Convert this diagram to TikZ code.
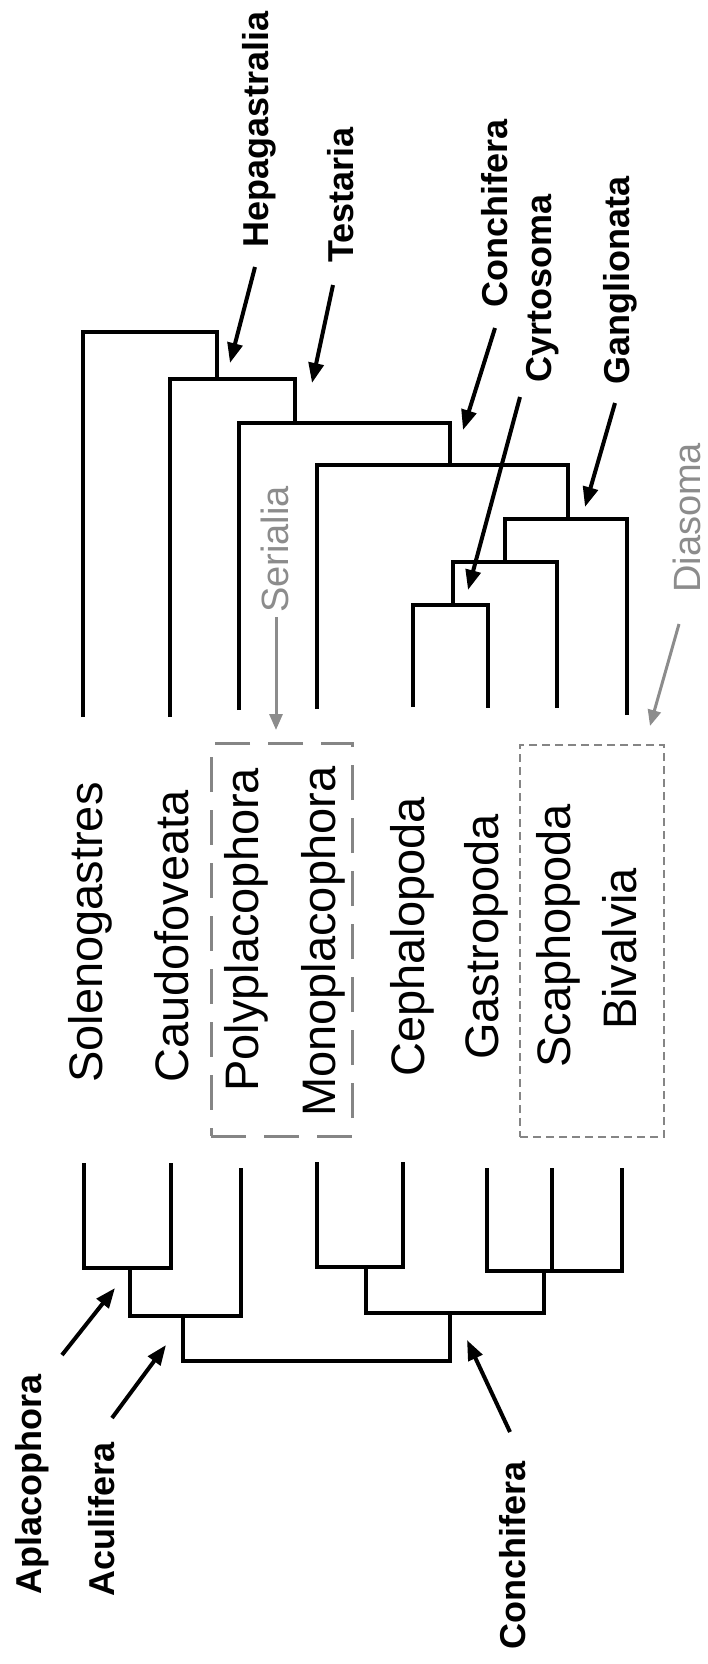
\documentclass[tikz,border=0pt]{standalone}
\usepackage{fontspec}
\setmainfont{Liberation Sans}
\usetikzlibrary{arrows.meta}
\definecolor{lgray}{HTML}{8C8C8C}
\definecolor{bgray}{HTML}{858585}
\begin{document}
\begin{tikzpicture}[x=1pt,y=-1pt,
  br/.style={line width=4.5pt},
  sp/.style={rotate=90, anchor=base west, inner sep=0pt, font=\fontsize{47}{50}\selectfont},
  cl/.style={rotate=90, anchor=base west, inner sep=0pt, font=\bfseries\fontsize{36}{40}\selectfont},
  gl/.style={rotate=90, anchor=base west, inner sep=0pt, text=lgray, font=\fontsize{38}{42}\selectfont},
  clarrow/.style={line width=4pt, -{Triangle[length=20pt,width=15pt]}},
  grarrow/.style={lgray, line width=3pt, -{Triangle[length=16pt,width=13pt]}},
  serbox/.style={draw=bgray, line width=3pt, dash pattern=on 35pt off 18pt, inner sep=0pt},
  diabox/.style={draw=bgray, line width=2.5pt, dash pattern=on 8pt off 5pt, inner sep=0pt}
]
\fill[white] (0,0) rectangle (708,1664);
\useasboundingbox (0,0) rectangle (708,1664);

% ---------- species labels ----------
\node[sp] (lSol) at (102,1083) {Solenogastres};
\node[sp] (lCau) at (188,1083) {Caudofoveata};
\node[sp] (lPol) at (258,1092) {Polyplacophora};
\node[sp] (lMon) at (335,1117) {Monoplacophora};
\node[sp] (lCep) at (424,1077) {Cephalopoda};
\node[sp] (lGas) at (498,1060) {Gastropoda};
\node[sp] (lSca) at (570,1068) {Scaphopoda};
\node[sp] (lBiv) at (636,1030) {Bivalvia};

% ---------- dashed boxes ----------
\node[serbox, minimum width=141pt, minimum height=393pt] (serB) at (281.5,939.5) {};
\node[diabox, minimum width=144pt, minimum height=392pt] (diaB) at (592,941) {};

% ---------- clade labels ----------
\node[cl] (lHep) at (268,248) {Hepagastralia};
\node[cl] (lTes) at (353,263) {Testaria};
\node[cl] (lConT) at (507,308) {Conchifera};
\node[cl] (lCyr) at (551,383) {Cyrtosoma};
\node[cl] (lGan) at (629,385) {Ganglionata};
\node[cl] (lApl) at (41,1595) {Aplacophora};
\node[cl] (lAcu) at (114,1597) {Aculifera};
\node[cl] (lConB) at (525,1650) {Conchifera};
\node[gl] (lSer) at (288,613) {Serialia};
\node[gl] (lDia) at (700,593) {Diasoma};

% ---------- top tree ----------
\coordinate (tSol) at (83,717);
\coordinate (tCau) at (170,717);
\coordinate (tPol) at (239,710);
\coordinate (tMon) at (317,709);
\coordinate (tCep) at (413,707);
\coordinate (tGas) at (488,708);
\coordinate (tSca) at (557,708);
\coordinate (tBiv) at (627,715);
\coordinate (nHep) at (217,332);  \coordinate (jHep) at (217,379);
\coordinate (nTes) at (295,379);  \coordinate (jTes) at (295,423);
\coordinate (nCon) at (450,423);  \coordinate (jCon) at (450,465);
\coordinate (nGan) at (568,465);  \coordinate (jGan) at (568,519);
\coordinate (nSB)  at (505,519);  \coordinate (jSB)  at (505,562);
\coordinate (nCS)  at (453,562);  \coordinate (jCS)  at (453,605);

\draw[br] (tSol) |- (nHep) -- (jHep);
\draw[br] (tCau) |- (nTes) -- (jTes);
\draw[br] (tPol) |- (nCon) -- (jCon);
\draw[br] (tMon) |- (nGan) -- (jGan);
\draw[br] (tBiv) |- (nSB) -- (jSB);
\draw[br] (tSca) |- (nCS) -- (jCS);
\draw[br] (tCep) |- (jCS) -| (tGas);

% ---------- bottom tree ----------
\coordinate (bSol) at (84,1163);
\coordinate (bCau) at (171,1163);
\coordinate (bPol) at (241,1168);
\coordinate (bMon) at (317,1162);
\coordinate (bCep) at (403,1162);
\coordinate (bGas) at (487,1168);
\coordinate (bSca) at (552,1168);
\coordinate (bBiv) at (622,1168);
\coordinate (kApl) at (130,1268);
\coordinate (kAcu) at (183,1316);
\coordinate (kRoot) at (450,1361);
\coordinate (kCon) at (450,1313);
\coordinate (kMC) at (366,1267);
\coordinate (kGSB) at (544,1271);

\draw[br] (bSol) |- (kApl) -| (bCau);
\draw[br] (kApl) |- (kAcu) -| (bPol);
\draw[br] (kAcu) |- (kRoot) -- (kCon);
\draw[br] (bMon) |- (kMC) -| (bCep);
\draw[br] (kMC) |- (kCon) -| (kGSB);
\draw[br] (bGas) |- (kGSB) -| (bBiv);
\draw[br] (bSca) |- (kGSB);

% ---------- arrows ----------
\coordinate (aHep) at (255,267);  \coordinate (hHep) at (230,363);
\coordinate (aTes) at (333,285);  \coordinate (hTes) at (312,383);
\coordinate (aConT) at (495,328); \coordinate (hConT) at (463,430);
\coordinate (aCyr) at (520,397);  \coordinate (hCyr) at (468,590);
\coordinate (aGan) at (615,403);  \coordinate (hGan) at (585,507);
\coordinate (aApl) at (62,1355);  \coordinate (hApl) at (115,1288);
\coordinate (aAcu) at (112,1418); \coordinate (hAcu) at (166,1345);
\coordinate (aConB) at (510,1432); \coordinate (hConB) at (467,1340);
\coordinate (aSer) at (276,617);  \coordinate (hSer) at (276,730);
\coordinate (aDia) at (679,624);  \coordinate (hDia) at (650,726);

\draw[clarrow] (aHep) -- (hHep);
\draw[clarrow] (aTes) -- (hTes);
\draw[clarrow] (aConT) -- (hConT);
\draw[clarrow] (aCyr) -- (hCyr);
\draw[clarrow] (aGan) -- (hGan);
\draw[clarrow] (aApl) -- (hApl);
\draw[clarrow] (aAcu) -- (hAcu);
\draw[clarrow] (aConB) -- (hConB);
\draw[grarrow] (aSer) -- (hSer);
\draw[grarrow] (aDia) -- (hDia);
\end{tikzpicture}
\end{document}
